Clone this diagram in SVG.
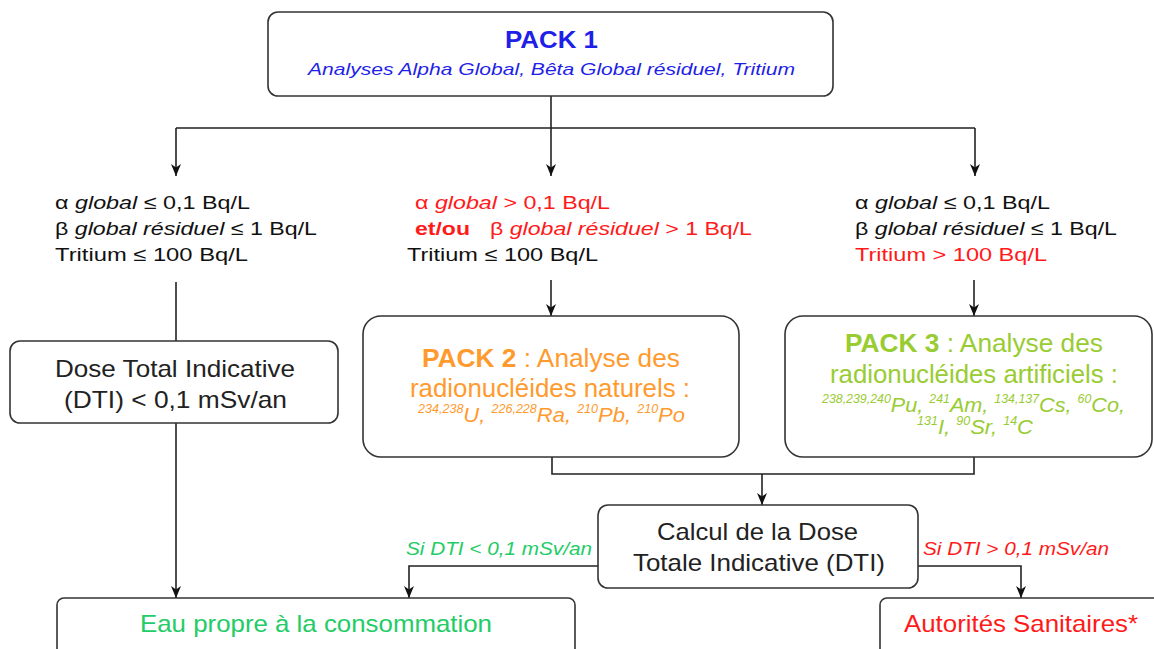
<svg xmlns="http://www.w3.org/2000/svg" width="1154" height="649" viewBox="0 0 1154 649">
<defs>
<marker id="arr" viewBox="0 0 12 10" refX="12" refY="5" markerWidth="12" markerHeight="10" markerUnits="userSpaceOnUse" orient="auto">
<path d="M0,0 L12,5 L0,10 L3.5,5 z" fill="#111"/>
</marker>
<style>
text{font-family:"Liberation Sans",Arial,sans-serif;}
.box{fill:#fff;stroke:#333;stroke-width:1.6;}
.ln{fill:none;stroke:#222;stroke-width:1.6;}
.cond{font-size:19px;fill:#111;}
.red{fill:#ff1a1a;}
.it{font-style:italic;}
.b{font-weight:bold;}
.big{font-size:24px;fill:#222;}
.p2{fill:#ff9a2e;}
.p3{fill:#99cc33;}
.sup{font-size:12px;}
</style>
</defs>
<rect width="1154" height="649" fill="#fff"/>

<g id="connectors">
<path class="ln" d="M551,96 V176" marker-end="url(#arr)"/>
<path class="ln" d="M176,128 H975 M176,128 V176" marker-end="url(#arr)"/>
<path class="ln" d="M975,128 V176" marker-end="url(#arr)"/>
<path class="ln" d="M551,280 V316" marker-end="url(#arr)"/>
<path class="ln" d="M974,280 V316" marker-end="url(#arr)"/>
<path class="ln" d="M176,282 V341"/>
<path class="ln" d="M176,423 V598" marker-end="url(#arr)"/>
<path class="ln" d="M552,457 V474 H974 V457"/>
<path class="ln" d="M762,474 V505" marker-end="url(#arr)"/>
<path class="ln" d="M598,566 H409 V598" marker-end="url(#arr)"/>
<path class="ln" d="M918,566 H1021 V598" marker-end="url(#arr)"/>
<text class="it" x="406" y="555" font-size="18" fill="#22cc66" textLength="186" lengthAdjust="spacingAndGlyphs">Si DTI &lt; 0,1 mSv/an</text>
<text class="it red" x="923" y="555" font-size="18" textLength="186" lengthAdjust="spacingAndGlyphs">Si DTI &gt; 0,1 mSv/an</text>
</g>

<g id="pack1">
<rect class="box" x="268" y="12" width="565" height="84" rx="10"/>
<text class="b" x="505" y="48" font-size="23" fill="#1f1fe8" textLength="93" lengthAdjust="spacingAndGlyphs">PACK 1</text>
<text class="it" x="308" y="75" font-size="17" fill="#1f1fe8" textLength="487" lengthAdjust="spacingAndGlyphs">Analyses Alpha Global, Bêta Global résiduel, Tritium</text>
</g>

<g id="cond-left">
<text class="cond" x="55" y="209" textLength="195" lengthAdjust="spacingAndGlyphs">α <tspan class="it">global</tspan> ≤ 0,1 Bq/L</text>
<text class="cond" x="55" y="235" textLength="262" lengthAdjust="spacingAndGlyphs">β <tspan class="it">global résiduel</tspan> ≤ 1 Bq/L</text>
<text class="cond" x="55" y="261" textLength="193" lengthAdjust="spacingAndGlyphs">Tritium ≤ 100 Bq/L</text>
</g>

<g id="cond-mid">
<text class="cond red" x="415" y="209" textLength="195" lengthAdjust="spacingAndGlyphs">α <tspan class="it">global</tspan> &gt; 0,1 Bq/L</text>
<text class="cond red b" x="415" y="235" textLength="55" lengthAdjust="spacingAndGlyphs">et/ou</text>
<text class="cond red" x="490" y="235" textLength="262" lengthAdjust="spacingAndGlyphs">β <tspan class="it">global résiduel</tspan> &gt; 1 Bq/L</text>
<text class="cond" x="407" y="261" textLength="191" lengthAdjust="spacingAndGlyphs">Tritium ≤ 100 Bq/L</text>
</g>

<g id="cond-right">
<text class="cond" x="855" y="209" textLength="195" lengthAdjust="spacingAndGlyphs">α <tspan class="it">global</tspan> ≤ 0,1 Bq/L</text>
<text class="cond" x="855" y="235" textLength="262" lengthAdjust="spacingAndGlyphs">β <tspan class="it">global résiduel</tspan> ≤ 1 Bq/L</text>
<text class="cond red" x="855" y="261" textLength="192" lengthAdjust="spacingAndGlyphs">Tritium &gt; 100 Bq/L</text>
</g>

<g id="dti">
<rect class="box" x="10" y="341" width="328" height="82" rx="10"/>
<text class="big" x="55" y="377" textLength="240" lengthAdjust="spacingAndGlyphs">Dose Total Indicative</text>
<text class="big" x="64" y="408" textLength="223" lengthAdjust="spacingAndGlyphs">(DTI) &lt; 0,1 mSv/an</text>
</g>

<g id="pack2">
<rect class="box" x="363" y="316" width="376" height="141" rx="18"/>
<text class="p2" x="422" y="367" font-size="25" textLength="258" lengthAdjust="spacingAndGlyphs"><tspan class="b">PACK 2</tspan> : Analyse des</text>
<text class="p2" x="410" y="397" font-size="25" textLength="280" lengthAdjust="spacingAndGlyphs">radionucléides naturels :</text>
<text class="p2 it" x="418" y="422" font-size="21" textLength="267" lengthAdjust="spacingAndGlyphs"><tspan class="sup" dy="-9">234,238</tspan><tspan dy="9">U, </tspan><tspan class="sup" dy="-9">226,228</tspan><tspan dy="9">Ra, </tspan><tspan class="sup" dy="-9">210</tspan><tspan dy="9">Pb, </tspan><tspan class="sup" dy="-9">210</tspan><tspan dy="9">Po</tspan></text>
</g>

<g id="pack3">
<rect class="box" x="785" y="316" width="367" height="141" rx="18"/>
<text class="p3" x="845" y="352" font-size="25" textLength="258" lengthAdjust="spacingAndGlyphs"><tspan class="b">PACK 3</tspan> : Analyse des</text>
<text class="p3" x="830" y="383" font-size="25" textLength="288" lengthAdjust="spacingAndGlyphs">radionucléides artificiels :</text>
<text class="p3 it" x="822" y="412" font-size="21" textLength="303" lengthAdjust="spacingAndGlyphs"><tspan class="sup" dy="-9">238,239,240</tspan><tspan dy="9">Pu, </tspan><tspan class="sup" dy="-9">241</tspan><tspan dy="9">Am, </tspan><tspan class="sup" dy="-9">134,137</tspan><tspan dy="9">Cs, </tspan><tspan class="sup" dy="-9">60</tspan><tspan dy="9">Co,</tspan></text>
<text class="p3 it" x="917" y="434" font-size="21" textLength="116" lengthAdjust="spacingAndGlyphs"><tspan class="sup" dy="-9">131</tspan><tspan dy="9">I, </tspan><tspan class="sup" dy="-9">90</tspan><tspan dy="9">Sr, </tspan><tspan class="sup" dy="-9">14</tspan><tspan dy="9">C</tspan></text>
</g>

<g id="calcul">
<rect class="box" x="598" y="505" width="320" height="83" rx="10"/>
<text class="big" x="657" y="540" textLength="201" lengthAdjust="spacingAndGlyphs">Calcul de la Dose</text>
<text class="big" x="633" y="571" textLength="252" lengthAdjust="spacingAndGlyphs">Totale Indicative (DTI)</text>
</g>

<g id="eau">
<rect class="box" x="57" y="598" width="518" height="90" rx="7"/>
<text x="140" y="632" font-size="24" fill="#22cc66" textLength="352" lengthAdjust="spacingAndGlyphs">Eau propre à la consommation</text>
</g>

<g id="autorites">
<rect class="box" x="880" y="598" width="300" height="90" rx="7"/>
<text class="red" x="904" y="632" font-size="24" textLength="234" lengthAdjust="spacingAndGlyphs">Autorités Sanitaires*</text>
</g>
</svg>
